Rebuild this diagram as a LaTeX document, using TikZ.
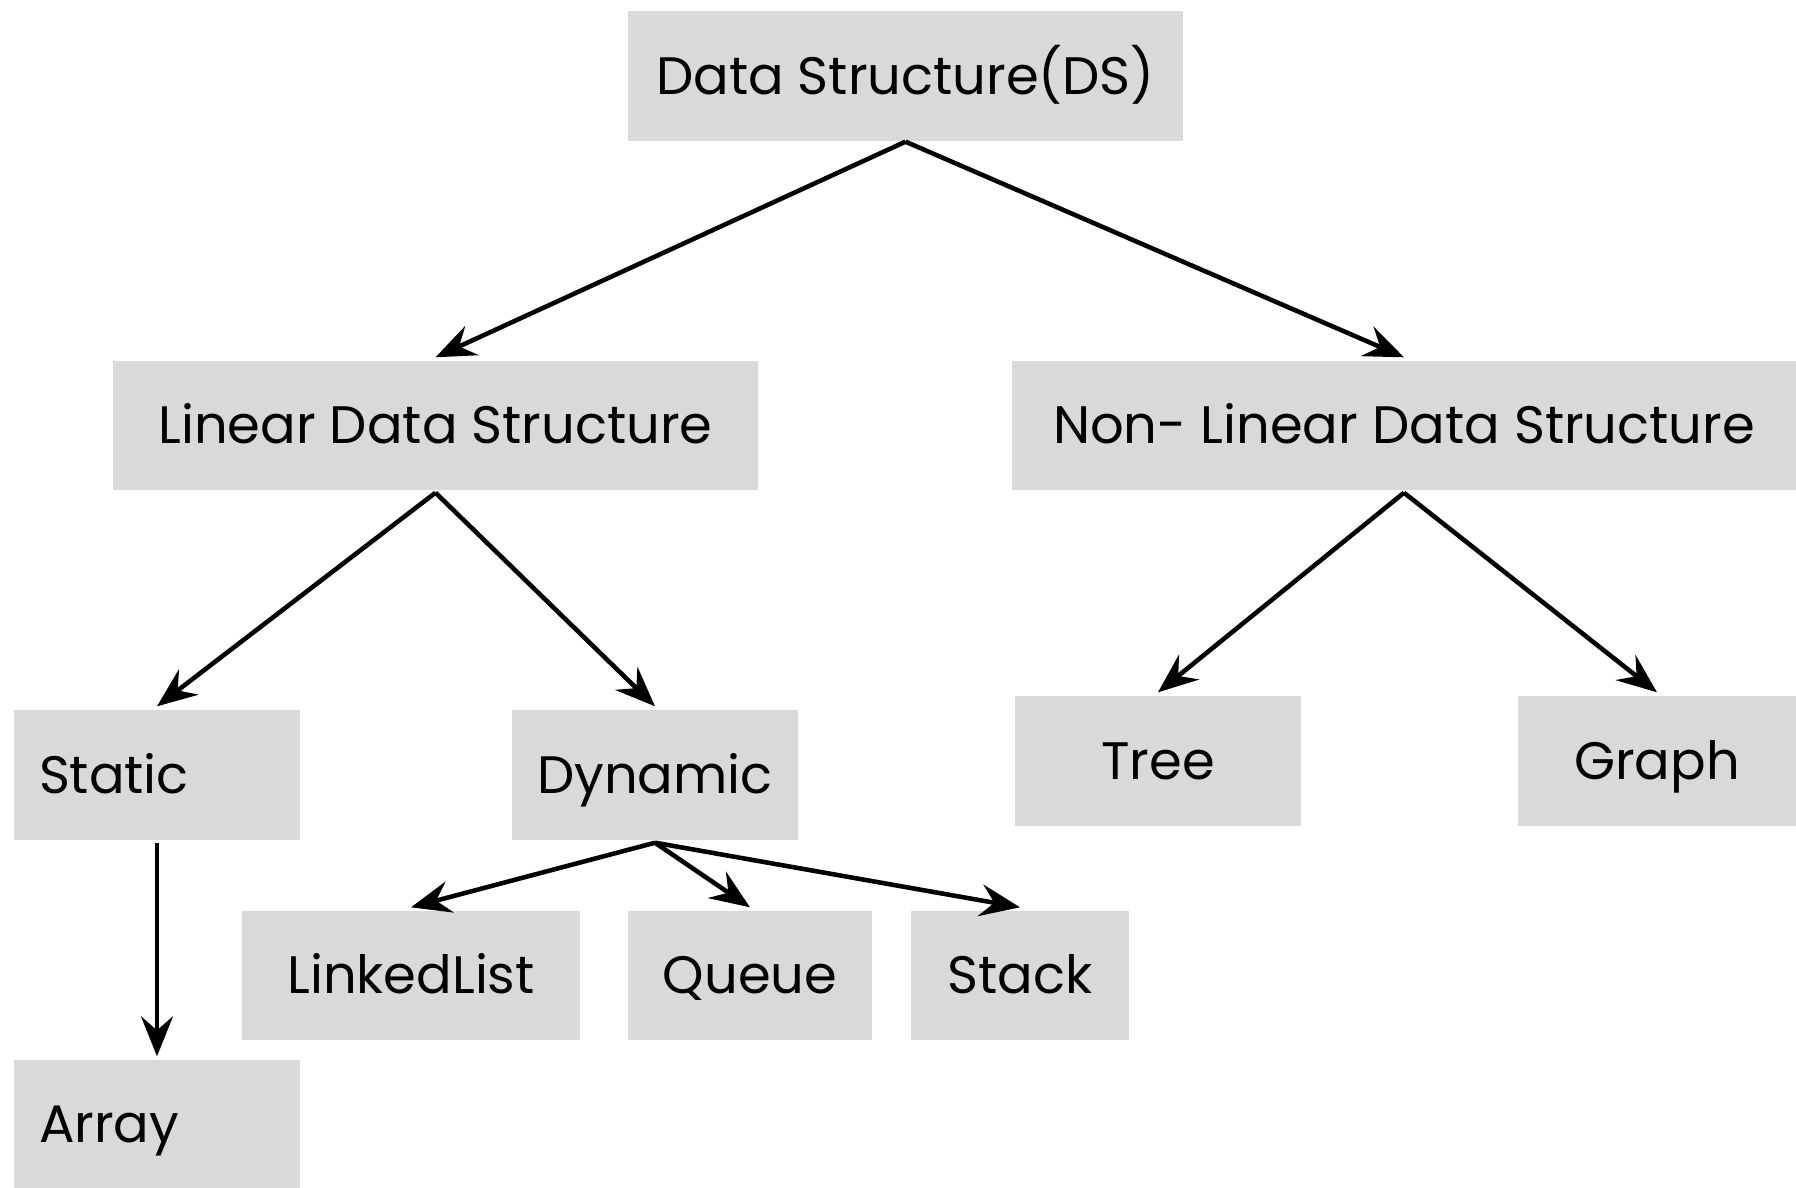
\documentclass[tikz,border=0pt]{standalone}
\usepackage{fontspec}
\setmainfont{Poppins}
\usetikzlibrary{arrows.meta}
\definecolor{boxgray}{HTML}{D9D9D9}
\tikzset{
  dsbox/.style={fill=boxgray, inner sep=0pt, text height=1.05em, text depth=0pt, font=\fontsize{15}{18}\selectfont},
  leftbox/.style={dsbox, align=left, text width=23.6mm, inner xsep=2.5mm},
  link/.style={-{Stealth[length=4mm,width=3.2mm,inset=1.4mm]}, line width=1.3pt}
}
\begin{document}
\begin{tikzpicture}[x=0.1mm, y=-0.1mm]
        \useasboundingbox (0,0) rectangle (1796,1188);
        % Root
        \node[dsbox, minimum width=55.5mm, minimum height=13mm] (ds) at (905.5,76) {Data Structure(DS)};
        % Level 1
        \node[dsbox, minimum width=64.5mm, minimum height=12.9mm] (lin) at (435.5,425.5) {Linear Data Structure};
        \node[dsbox, minimum width=78.4mm, minimum height=12.9mm] (nonlin) at (1404,425.5) {Non- Linear Data Structure};
        % Level 2
        \node[leftbox, minimum width=28.6mm, minimum height=13mm] (static) at (157,775) {Static};
        \node[dsbox, minimum width=28.6mm, minimum height=13mm] (dyn) at (655,775) {Dynamic};
        \node[dsbox, minimum width=28.6mm, minimum height=13mm] (tree) at (1158,761) {Tree};
        \node[dsbox, minimum width=27.8mm, minimum height=13mm] (graph) at (1657,761) {Graph};
        % Level 3
        \node[dsbox, minimum width=33.8mm, minimum height=12.9mm] (ll) at (411,975.5) {LinkedList};
        \node[dsbox, minimum width=24.4mm, minimum height=12.9mm] (queue) at (750,975.5) {Queue};
        \node[dsbox, minimum width=21.8mm, minimum height=12.9mm] (stack) at (1020,975.5) {Stack};
        \node[leftbox, minimum width=28.6mm, minimum height=12.8mm] (array) at (157,1124) {Array};
        % Arrows
        \draw[link] (ds.south) -- ([yshift=0.3mm]lin.north);
        \draw[link] (ds.south) -- ([yshift=0.3mm]nonlin.north);
        \draw[link] ([yshift=-0.2mm]lin.south) -- ([yshift=0.3mm]static.north);
        \draw[link] ([yshift=-0.2mm]lin.south) -- ([yshift=0.3mm]dyn.north);
        \draw[link] ([yshift=-0.2mm]nonlin.south) -- ([yshift=0.3mm]tree.north);
        \draw[link] ([yshift=-0.2mm]nonlin.south) -- ([yshift=0.3mm]graph.north);
        \draw[link] ([yshift=-0.2mm]static.south) -- ([yshift=0.3mm]array.north);
        \draw[link] ([yshift=-0.2mm]dyn.south) -- ([yshift=0.3mm]ll.north);
        \draw[link] ([yshift=-0.2mm]dyn.south) -- ([yshift=0.3mm]queue.north);
        \draw[link] ([yshift=-0.2mm]dyn.south) -- ([yshift=0.3mm]stack.north);
\end{tikzpicture}
\end{document}
